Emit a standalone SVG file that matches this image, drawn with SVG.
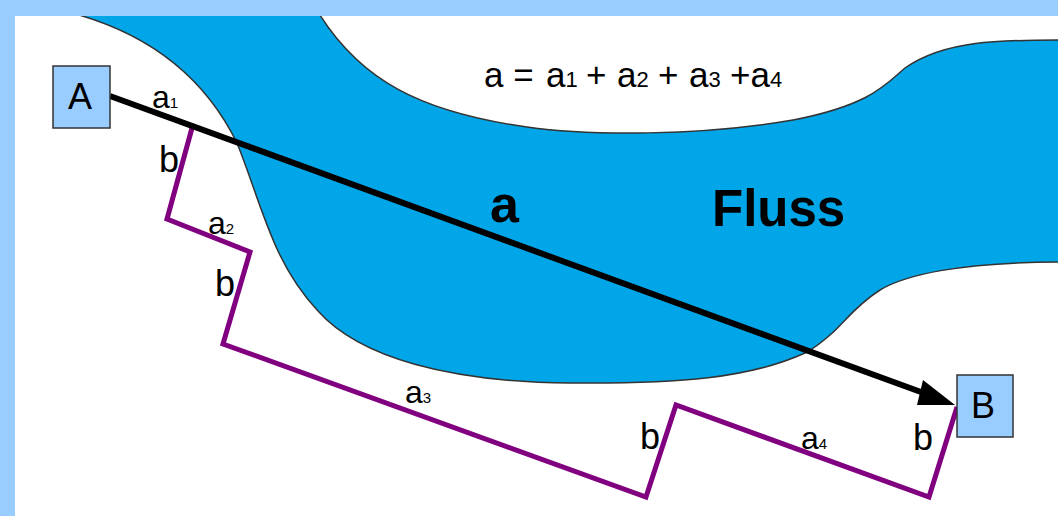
<svg xmlns="http://www.w3.org/2000/svg" width="1058" height="516" viewBox="0 0 1058 516">
<defs>
<marker id="arrow" markerUnits="userSpaceOnUse" markerWidth="42" markerHeight="30" refX="19" refY="17.5" orient="0"><path d="M6,0 L0,25 L38,25 Z" fill="#000"/></marker>
<clipPath id="page"><rect x="15" y="16" width="1043" height="500"/></clipPath>
</defs>
<style>
text{font-family:"Liberation Sans",Arial,sans-serif;fill:#000}
.t{font-size:36px}
.l{font-size:32px}
.s{font-size:15px}
.e{font-size:35px}
.es{font-size:22px}
.box{fill:#99ccff;stroke:#333;stroke-width:1.5}
.river{fill:#00a6e8;stroke:#333;stroke-width:1.5}
.purple{fill:none;stroke:#800080;stroke-width:5;stroke-linejoin:miter}
</style>
<rect width="1058" height="516" fill="#99ccff"/>
<rect x="15" y="16" width="1043" height="500" fill="#fff"/>
<g id="river" clip-path="url(#page)">
<path class="river" d="M72,13 C150,34 205,78 237,143 C262,205 272,262 318,311 C360,358 450,382 570,383 C680,384 750,378 805,353 C815,348 822,342 830,335 C845,322 855,306 880,290 C905,275 960,262 1062,262 L1062,40 C1000,40 945,40 905,68 C885,85 870,105 793,120 C700,136 590,136 527,127 C420,112 360,80 318,12 Z"/>
</g>
<g id="connectors">
<polyline id="path-purple" class="purple" points="192,128 167,219 250,252 223,344 646,497 676,405 929,497 957,407"/>
<line id="line-ab" x1="110" y1="96" x2="936" y2="397.5" stroke="#000" stroke-width="6" marker-end="url(#arrow)"/>
</g>
<g id="node-a"><rect class="box" x="53" y="66" width="57" height="62"/><text class="t" x="80" y="109" text-anchor="middle">A</text></g>
<g id="node-b"><rect class="box" x="957" y="375" width="56" height="62"/><text class="t" x="983" y="418" text-anchor="middle">B</text></g>
<g id="labels">
<text x="152" y="108" class="l">a<tspan class="s">1</tspan></text>
<text x="159" y="172" class="t">b</text>
<text x="208" y="234" class="l">a<tspan class="s">2</tspan></text>
<text x="215" y="296" class="t">b</text>
<text x="405" y="403" class="l">a<tspan class="s">3</tspan></text>
<text x="640" y="449" class="t">b</text>
<text x="801" y="449" class="l">a<tspan class="s">4</tspan></text>
<text x="913" y="450" class="t">b</text>
<text y="87" class="e"><tspan x="484">a =</tspan> <tspan x="546">a</tspan><tspan class="es">1</tspan> <tspan x="586">+</tspan> <tspan x="617">a</tspan><tspan class="es">2</tspan> <tspan x="658">+</tspan> <tspan x="689">a</tspan><tspan class="es">3</tspan> <tspan x="730">+a</tspan><tspan class="es">4</tspan></text>
<text x="490" y="222" style="font-size:52px;font-weight:bold">a</text>
<text x="712" y="226" style="font-size:51px;font-weight:bold">Fluss</text>
</g>
</svg>
